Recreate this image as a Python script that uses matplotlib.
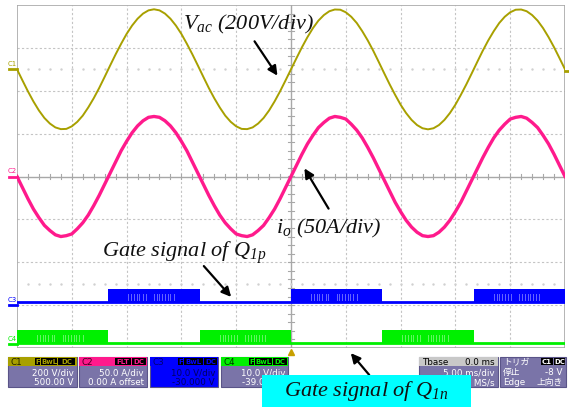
import numpy as np
import matplotlib.pyplot as plt
from matplotlib.patches import Rectangle

plt.rcParams['mathtext.fontset'] = 'custom'
plt.rcParams['mathtext.it'] = 'Liberation Serif:italic'
plt.rcParams['mathtext.rm'] = 'Liberation Serif:italic'

# Scope data: 5 ms/div, 10 div, read every 0.5 ms
t_ms = [0.5 * i for i in range(101)]
vac = [0, -52, -103, -150, -192, -227, -253, -271, -279, -278, -266, -245, -216, -178,
       -135, -87, -35, 18, 70, 119, 165, 204, 236, 260, 275, 280, 275, 260, 236, 204,
       165, 119, 70, 18, -35, -87, -135, -178, -216, -245, -266, -278, -279, -271, -253,
       -227, -192, -150, -103, -52, 0, 52, 103, 150, 192, 227, 253, 271, 279, 278, 266,
       245, 216, 178, 135, 87, 35, -18, -70, -119, -165, -204, -236, -260, -275, -280,
       -275, -260, -236, -204, -165, -119, -70, -18, 35, 87, 135, 178, 216, 245, 266,
       278, 279, 271, 253, 227, 192, 150, 103, 52, 0]  # V
io = [0, -13, -26, -38, -48, -57, -63, -68, -70, -69, -67, -61, -54, -45, -34, -22, -9,
      4, 17, 30, 41, 51, 59, 65, 69, 70, 69, 65, 59, 51, 41, 30, 17, 4, -9, -22, -34,
      -45, -54, -61, -67, -69, -70, -68, -63, -57, -48, -38, -26, -13, 0, 13, 26, 38,
      48, 57, 63, 68, 70, 69, 67, 61, 54, 45, 34, 22, 9, -4, -17, -30, -41, -51, -59,
      -65, -69, -70, -69, -65, -59, -51, -41, -30, -17, -4, 9, 22, 34, 45, 54, 61, 67,
      69, 70, 68, 63, 57, 48, 38, 26, 13, 0]  # A

# gate signals: on intervals (ms) and levels (V)
q1p_on = [(8.33, 16.67), (25.0, 33.33), (41.67, 50.0)]
q1n_on = [(0.0, 8.33), (16.67, 25.0), (33.33, 41.67)]
q1p_low, q1p_high = 0.8, 3.8
q1n_low, q1n_high = 0.2, 3.2
# lighter PWM gaps inside each on interval (fraction of the interval)
pwm_gaps = [0.22, 0.25, 0.28, 0.31, 0.34, 0.38, 0.41, 0.5, 0.53, 0.56, 0.59, 0.62,
            0.65, 0.68, 0.72]

# channel settings: volts (amps) per div, position in div
ch_scale = {'C1': 200, 'C2': 50, 'C3': 10, 'C4': 10}
ch_pos = {'C1': 2.5, 'C2': 0.0, 'C3': -3.0, 'C4': -3.9}
ch_color = {'C1': '#A8A000', 'C2': '#FF1A8C', 'C3': '#0000FF', 'C4': '#00F000'}

W, H = 569, 410
fig = plt.figure(figsize=(W / 100, H / 100), dpi=100)
fig.patch.set_facecolor('white')

ax = fig.add_axes([17 / W, 1 - 349 / H, 548 / W, 343 / H])
ax.set_xlim(0, 50)
ax.set_ylim(-4, 4)
ax.axis('off')

# graticule
gc = '#C4C4C4'
for gx in range(5, 50, 5):
    if gx != 25:
        ax.axvline(gx, color=gc, lw=0.8, ls=(0, (2, 2)), zorder=1)
for gy in range(-3, 4):
    if gy != 0:
        ax.axhline(gy, color=gc, lw=0.8, ls=(0, (2, 2)), zorder=1)
ax.axhline(0, color='#A8A8A8', lw=1.0, zorder=1)
ax.axvline(25, color='#A8A8A8', lw=1.0, zorder=1)
for tx in np.arange(1, 50, 1):
    ax.plot([tx, tx], [-0.06, 0.06], color='#A8A8A8', lw=0.8, zorder=1)
for ty in np.arange(-3.8, 4, 0.2):
    ax.plot([24.72, 25.28], [ty, ty], color='#A8A8A8', lw=0.8, zorder=1)
for ry in (2.5, -2.5):
    ax.plot(np.arange(1, 50, 1), [ry] * 49, ls='none', marker='s', ms=0.7,
            color='#D0D0D0', zorder=1)
ax.add_patch(Rectangle((0, -4), 50, 8, fill=False, ec='#A8A8A8', lw=1.2, zorder=1))

# analog traces
ax.plot(t_ms, np.array(vac) / ch_scale['C1'] + ch_pos['C1'], color=ch_color['C1'],
        lw=1.4, zorder=3)
ax.plot(t_ms, np.array(io) / ch_scale['C2'] + ch_pos['C2'], color=ch_color['C2'],
        lw=2.4, zorder=3)


def gate(on, low, high, ch):
    pos, sc, col = ch_pos[ch], ch_scale[ch], ch_color[ch]
    lo = low / sc + pos
    hi = high / sc + pos
    ax.plot([0, 50], [lo, lo], color=col, lw=2.0, zorder=3)
    for t0, t1 in on:
        ax.fill_between([t0, t1], lo - 0.02, hi, color=col, lw=0, zorder=3)
        for f in pwm_gaps:
            tg = t0 + f * (t1 - t0)
            ax.plot([tg, tg], [lo + 0.04, hi - 0.12], color='white', alpha=0.4,
                    lw=0.7, zorder=4)


gate(q1p_on, q1p_low, q1p_high, 'C3')
gate(q1n_on, q1n_low, q1n_high, 'C4')

# channel reference markers
for ch in ch_pos:
    ax.plot([-0.75, 0], [ch_pos[ch]] * 2, color=ch_color[ch], lw=2.0,
            clip_on=False, zorder=3)
    ax.text(-0.9, ch_pos[ch] + 0.14, ch, color=ch_color[ch], fontsize=5,
            ha='left', va='center', clip_on=False)
ax.plot([50, 50.35], [ch_pos['C1'] - 0.05] * 2, color=ch_color['C1'], lw=2.0,
        clip_on=False)
ax.plot([25], [-4.1], marker='^', ms=4, color='#C8A000', clip_on=False)

# overlay in pixel space for annotations and panel
ov = fig.add_axes([0, 0, 1, 1], zorder=5)
ov.set_xlim(0, W)
ov.set_ylim(H, 0)
ov.axis('off')
ov.patch.set_alpha(0)

serif = dict(family='Liberation Serif', style='italic', fontsize=16, color='#111111')
ov.text(183, 24, r'$V_{ac}$ (200V/div)', ha='left', va='center', **serif)
ov.text(276, 228, r'$i_{o}$ (50A/div)', ha='left', va='center', **serif)
ov.text(102, 253, r'Gate signal of $Q_{1p}$', ha='left', va='center', **serif)

arrow = dict(arrowstyle='-|>', color='black', lw=1.6, mutation_scale=14)
ov.annotate('', xy=(279, 79), xytext=(253, 40), arrowprops=arrow)
ov.annotate('', xy=(303, 167), xytext=(330, 212), arrowprops=arrow)
ov.annotate('', xy=(233, 300), xytext=(202, 265), arrowprops=arrow)
ov.annotate('', xy=(349, 352), xytext=(371, 378), arrowprops=arrow)

# scope info panel
body = '#7A74A8'
small = dict(fontsize=6.3, family='DejaVu Sans')
cjk = ['DejaVu Sans', 'Noto Sans CJK JP']


def badge(x0, x1, y0, label, tc):
    ov.add_patch(Rectangle((x0, y0 + 1), x1 - x0, 6.5, fc='black', ec='none', zorder=6))
    ov.text((x0 + x1) / 2, y0 + 4.4, label, color=tc, ha='center', va='center',
            fontsize=5, fontweight='bold', zorder=7)


def box(x0, x1, hdr_col, name, name_col, badges, badge_col, l1, l2, body_col, txt_col):
    ov.add_patch(Rectangle((x0, 358), x1 - x0, 30, fc=body_col, ec='#5A5488', lw=0.8,
                           zorder=5))
    ov.add_patch(Rectangle((x0, 358), x1 - x0, 8.5, fc=hdr_col, ec='none', zorder=5))
    ov.text(x0 + 3, 362.5, name, color=name_col, ha='left', va='center', zorder=7,
            **small)
    for bx0, bx1, lab in badges:
        badge(bx0, bx1, 358, lab, badge_col)
    ov.text(x1 - 3, 373, l1, color=txt_col, ha='right', va='center', zorder=7, **small)
    ov.text(x1 - 3, 383, l2, color=txt_col, ha='right', va='center', zorder=7, **small)


box(8, 77, '#A8A000', 'C1', '#202000', [(35, 40, 'F'), (41, 57, 'BwL'), (58, 75, 'DC')],
    '#A8A000', '200 V/div', '500.00 V', body, 'white')
box(79, 147, '#FF1A8C', 'C2', '#400020', [(115, 131, 'FLT'), (132, 146, 'DC')],
    '#FF1A8C', '50.0 A/div', '0.00 A offset', body, 'white')
box(150, 218, '#0000FF', 'C3', '#000070', [(178, 183, 'F'), (184, 203, 'BwL'), (204, 217, 'DC')],
    '#0000FF', '10.0 V/div', '-30.000 V', '#0000FF', '#000060')
box(221, 288, '#00F000', 'C4', '#003000', [(249, 254, 'F'), (255, 272, 'BwL'), (273, 287, 'DC')],
    '#00F000', '10.0 V/div', '-39.000 V', body, 'white')

# Tbase
ov.add_patch(Rectangle((419, 358), 79, 30, fc=body, ec='#5A5488', lw=0.8, zorder=5))
ov.add_patch(Rectangle((419, 358), 79, 8.5, fc='#C8C8C8', ec='none', zorder=5))
ov.text(422, 362.5, 'Tbase', color='black', ha='left', va='center', zorder=7, **small)
ov.text(495, 362.5, '0.0 ms', color='black', ha='right', va='center', zorder=7, **small)
ov.text(495, 373, '5.00 ms/div', color='white', ha='right', va='center', zorder=7, **small)
ov.text(495, 383, '10 MS/s', color='white', ha='right', va='center', zorder=7, **small)

# trigger
ov.add_patch(Rectangle((500, 358), 66, 30, fc=body, ec='#5A5488', lw=0.8, zorder=5))
ov.text(503, 362.5, 'トリガ', color='white', ha='left', va='center', zorder=7,
        fontsize=6.3, family=cjk)
badge(541, 553, 358, 'C1', 'white')
badge(554, 565, 358, 'DC', 'white')
ov.text(503, 373, '停止', color='white', ha='left', va='center', zorder=7,
        fontsize=6.3, family=cjk)
ov.text(563, 373, '-8 V', color='white', ha='right', va='center', zorder=7, **small)
ov.text(503, 383, 'Edge', color='white', ha='left', va='center', zorder=7, **small)
ov.text(563, 383, '上向き', color='white', ha='right', va='center', zorder=7,
        fontsize=6.3, family=cjk)

# cyan label box
ov.add_patch(Rectangle((262, 376), 209, 32, fc='#00FFFF', ec='none', zorder=8))
ov.text(366, 391, r'Gate signal of $Q_{1n}$', ha='center', va='center', zorder=9,
        **serif)

fig.savefig('out.png', dpi=100)
